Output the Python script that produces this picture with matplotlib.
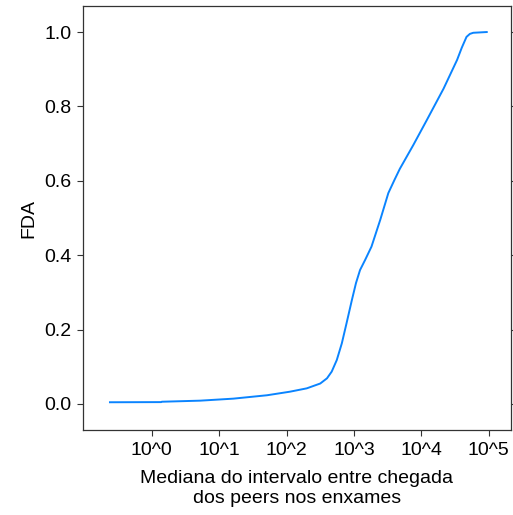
import matplotlib
matplotlib.use("Agg")
import matplotlib.pyplot as plt
import numpy as np

# CDF of median inter-arrival interval
log_interval = [-0.62, 0.14, 0.15, 0.72, 1.21, 1.71, 2.05, 2.30, 2.50, 2.60,
                2.67, 2.745, 2.82, 2.89, 2.97, 3.03, 3.09, 3.165, 3.26, 3.39,
                3.51, 3.60, 3.68, 3.88, 4.08, 4.33, 4.53, 4.60, 4.67, 4.72,
                4.77, 4.97]
fda = [0.0046, 0.0050, 0.0060, 0.0089, 0.0143, 0.0234, 0.033, 0.042, 0.055, 0.069,
       0.087, 0.118, 0.163, 0.217, 0.280, 0.325, 0.360, 0.387, 0.423, 0.495,
       0.567, 0.602, 0.632, 0.696, 0.763, 0.848, 0.925, 0.958, 0.987, 0.995,
       0.998, 1.0]

xtick_exp = [0, 1, 2, 3, 4, 5]
xtick_labels = [f"10^{e}" for e in xtick_exp]
yticks = [0.0, 0.2, 0.4, 0.6, 0.8, 1.0]

plt.rcParams["font.family"] = ["Liberation Sans", "DejaVu Sans"]
plt.rcParams["font.size"] = 14

fig = plt.figure(figsize=(5.13, 5.15), dpi=100)
ax = fig.add_axes([83 / 513, 1 - 430 / 515, (511 - 83) / 513, (430 - 6) / 515])

x = 10 ** np.asarray(log_interval)
ax.plot(x, fda, color="#0a84ff", lw=1.4, solid_joinstyle="round")

ax.set_xscale("log")
ax.set_xlim(10 ** -1.02, 10 ** 5.33)
ax.set_ylim(-0.07, 1.07)
ax.set_xticks([10.0 ** e for e in xtick_exp])
ax.set_xticklabels(xtick_labels)
ax.minorticks_off()
ax.set_yticks(yticks)
ax.set_yticklabels([f"{v:.1f}" for v in yticks])

for s in ax.spines.values():
    s.set_color("#333333")
    s.set_linewidth(0.9)
ax.tick_params(direction="out", length=4.5, width=0.8, color="#333333",
               labelsize=14, pad=4, right=True)

ax.set_xlabel("Mediana do intervalo entre chegada\ndos peers nos enxames",
              fontsize=14, labelpad=8)
ax.set_ylabel("FDA", fontsize=14, labelpad=5)

fig.savefig("out.png", dpi=100, facecolor="white")
